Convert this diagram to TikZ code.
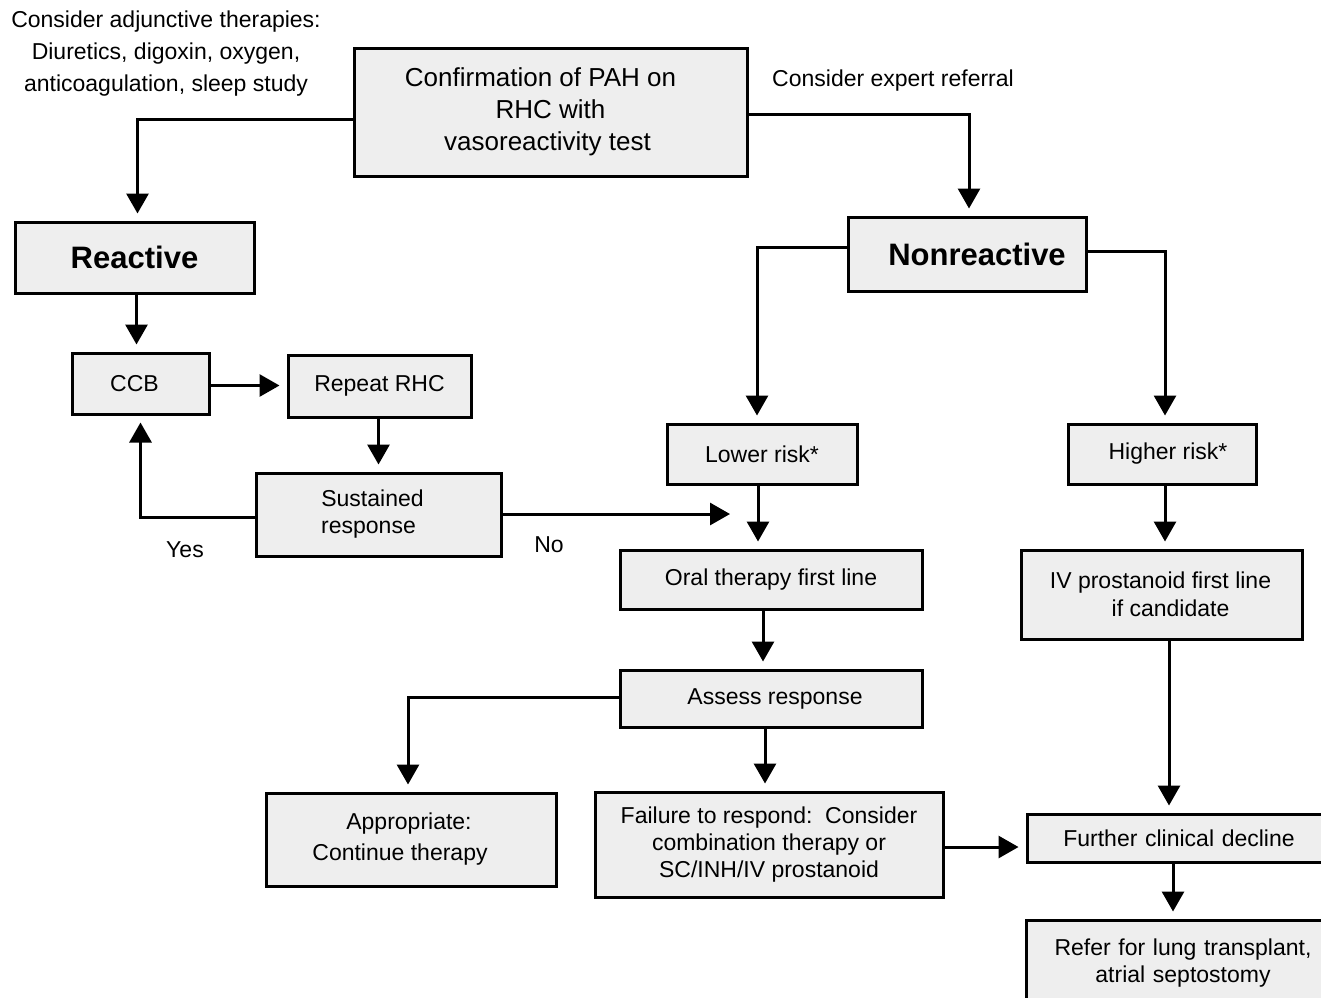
\documentclass[tikz,border=0pt]{standalone}
\usepackage{fontspec}
\setmainfont{Liberation Sans}
\usetikzlibrary{arrows.meta,calc}
\definecolor{boxfill}{HTML}{EEEEEE}
\begin{document}
\begin{tikzpicture}[x=1pt,y=-1pt,
  box/.style={draw=black, line width=3pt, fill=boxfill, align=center, inner sep=2pt,
    font=\fontsize{23}{27}\selectfont},
  bigbox/.style={box, font=\fontsize{31}{34}\selectfont\bfseries},
  lbl/.style={align=center, inner sep=0pt, font=\fontsize{23}{27}\selectfont},
  arr/.style={line width=3pt, -{Triangle[length=20pt,width=22pt]}, shorten >=7pt},
  arrfree/.style={line width=3pt, -{Triangle[length=20pt,width=22pt]}}]
\useasboundingbox (0,0) rectangle (1321,997);

% boxes
\node[box, minimum width=393pt, minimum height=128pt, font=\fontsize{26}{32}\selectfont] (conf) at (550.5,112) {\hspace*{-20pt}Confirmation of PAH on\\RHC with\\\hspace*{-6pt}vasoreactivity test};
\node[bigbox, minimum width=239pt, minimum height=71pt] (reac) at (134.5,257.5) {Reactive};
\node[bigbox, minimum width=238pt, minimum height=74pt] (nonr) at (967,254) {\hspace*{20pt}Nonreactive};
\node[box, minimum width=137pt, minimum height=61pt] (ccb) at (140.5,383.5) {\hspace*{-12pt}CCB};
\node[box, minimum width=183pt, minimum height=62pt] (rep) at (379.5,386) {Repeat RHC};
\node[box, minimum width=245pt, minimum height=83pt] (sus) at (378.5,514.5) {\hspace*{-12pt}Sustained\\\hspace*{-20pt}response};
\node[box, minimum width=190pt, minimum height=60pt] (low) at (762,454) {Lower risk*};
\node[box, minimum width=188pt, minimum height=60pt] (high) at (1162,454) {\hspace*{12pt}Higher risk*};
\node[box, minimum width=302pt, minimum height=59pt] (oral) at (771,579.5) {Oral therapy first line};
\node[box, minimum width=281pt, minimum height=89pt, font=\fontsize{23}{28}\selectfont] (iv) at (1161.5,594.5) {\hspace*{-2pt}IV prostanoid first line\\\hspace*{18pt}if candidate};
\node[box, minimum width=302pt, minimum height=57pt] (assess) at (771,698.5) {\hspace*{8pt}Assess response};
\node[box, minimum width=290pt, minimum height=93pt, font=\fontsize{23}{31}\selectfont] (appr) at (411,839.5) {\hspace*{-4pt}Appropriate:\\\hspace*{-22pt}Continue therapy};
\node[box, minimum width=348pt, minimum height=105pt] (fail) at (769,844.5) {Failure to respond:\ \ Consider\\combination therapy or\\SC/INH/IV prostanoid};
\node[box, minimum width=296pt, minimum height=48pt, text width=290pt] (fur) at (1175,838) {\hspace*{8pt}Further clinical decline};
\node[box, minimum width=296pt, minimum height=86pt, text width=290pt] (refer) at (1174,963) {\raisebox{8pt}{\parbox[t]{290pt}{\centering\hspace*{18pt}Refer for lung transplant,\\\hspace*{18pt}atrial septostomy}}};

% free labels
\node[lbl, font=\fontsize{23}{32}\selectfont] (adj) at (166,54) {Consider adjunctive therapies:\\Diuretics, digoxin, oxygen,\\anticoagulation, sleep study};
\node[lbl] (expert) at (893,81) {Consider expert referral};
\node[lbl] (yes) at (185,550) {Yes};
\node[lbl] (no) at (549,545) {No};
\coordinate (noend) at (730,514);

% connectors
\draw[arr] ([yshift=-7pt]conf.west) -| ([xshift=3pt]reac.north);
\draw[arr] ([yshift=-2pt]conf.east) -| ([xshift=2pt]nonr.north);
\draw[arr] ([xshift=2pt]reac.south) -- ([xshift=2pt]reac.south |- ccb.north);
\draw[arr] ([yshift=-2pt]ccb.east) -- ([yshift=-2pt]ccb.east -| rep.west);
\draw[arr] ([xshift=-1pt]rep.south) -- ([xshift=-1pt]rep.south |- sus.north);
\draw[arr] ([yshift=-3pt]sus.west) -| (ccb.south);
\draw[arrfree] (sus.east |- noend) -- (noend);
\draw[arr] ([xshift=-4pt]low.south) -- ([xshift=-4pt]low.south |- oral.north);
\draw[arr] ([yshift=7pt]nonr.west) -| ([xshift=-5pt]low.north);
\draw[arr] ([yshift=3pt]nonr.east) -| ([xshift=3pt]high.north);
\draw[arr] ([xshift=3pt]high.south) -- ([xshift=3pt]high.south |- iv.north);
\draw[arr] ([xshift=-8pt]oral.south) -- ([xshift=-8pt]oral.south |- assess.north);
\draw[arr] ([yshift=1.5pt]assess.west) -| ([xshift=-3pt]appr.north);
\draw[arr] ([xshift=-6pt]assess.south) -- ([xshift=-6pt]assess.south |- fail.north);
\draw[arr] ([xshift=7.5pt]iv.south) -- ([xshift=7.5pt]iv.south |- fur.north);
\draw[arr] ([yshift=-2.5pt]fail.east) -- ([yshift=-2.5pt]fail.east -| fur.west);
\draw[arr] ([xshift=-2pt]fur.south) -- ([xshift=-2pt]fur.south |- refer.north);
\end{tikzpicture}
\end{document}
